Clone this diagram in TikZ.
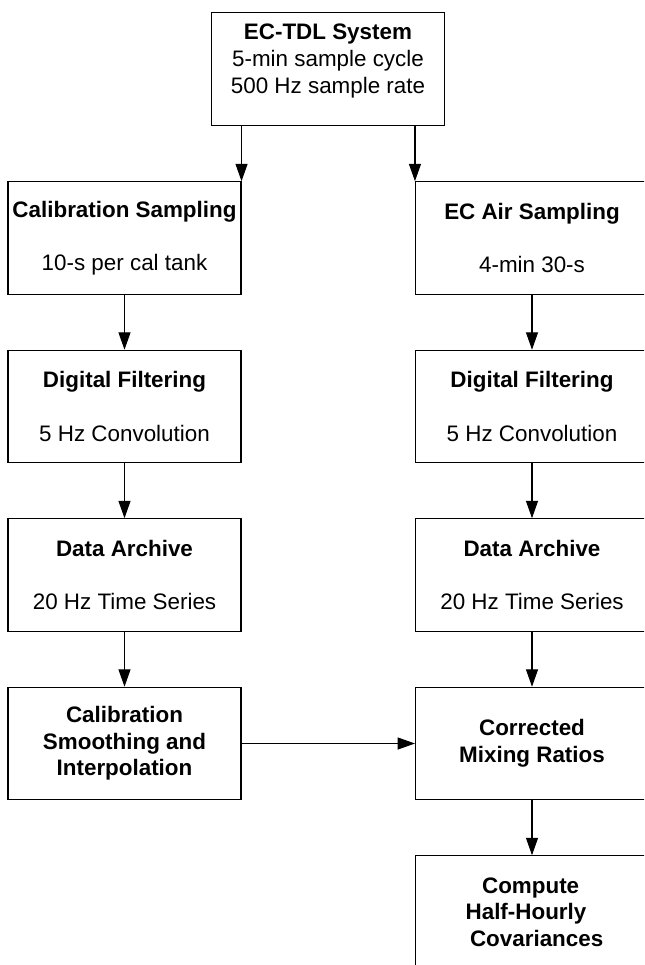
\documentclass[tikz,border=0pt]{standalone}
\usepackage{fontspec}
\setmainfont{Liberation Sans}
\usetikzlibrary{arrows.meta}
\begin{document}
\begin{tikzpicture}[x=0.75pt,y=-0.75pt,
  txt/.style={font=\fontsize{16.8}{19.9}\selectfont},
  box/.style={txt, draw=black, line width=0.8pt, minimum width=174.75pt, minimum height=84.4pt, inner sep=0pt, align=center},
  boldbox/.style={box, font=\fontsize{16.8}{19.9}\selectfont\bfseries},
  arr/.style={draw=black, line width=0.8pt, -{Triangle[length=13pt,width=9pt]}}]
\clip (0,0) rectangle (644,965);
% top
\node[box] (top) at (328,69) {};
\node[txt, align=center, inner sep=0pt] (toptext) at (328,61) {\textbf{EC-TDL System}\\5-min sample cycle\\500 Hz sample rate};
% left column
\node[box] (L1) at (124.5,238) {\textbf{Calibration Sampling}\\[19.9pt]10-s per cal tank};
\node[box] (L2) at (124.5,406.5) {\textbf{Digital Filtering}\\[19.9pt]5 Hz Convolution};
\node[box] (L3) at (124.5,575) {\textbf{Data Archive}\\[19.9pt]20 Hz Time Series};
\node[boldbox] (L4) at (124.5,743.5) {Calibration\\Smoothing and\\Interpolation};
% right column
\node[box] (R1) at (532,238) {\textbf{EC Air Sampling}\\[19.9pt]4-min 30-s};
\node[box] (R2) at (532,406.5) {\textbf{Digital Filtering}\\[19.9pt]5 Hz Convolution};
\node[box] (R3) at (532,575) {\textbf{Data Archive}\\[19.9pt]20 Hz Time Series};
\node[boldbox] (R4) at (532,743.5) {Corrected\\Mixing Ratios};
\node[boldbox] (R5) at (532,912) {\mbox{Compute\kern2pt}\\\mbox{Half-Hourly\kern9pt}\\\mbox{\kern7pt Covariances}};
% connectors
\draw[arr] (L1.north east |- top.south) -- (L1.north east);
\draw[arr] (R1.north west |- top.south) -- (R1.north west);
\draw[arr] (L1.south) -- (L2.north);
\draw[arr] (L2.south) -- (L3.north);
\draw[arr] (L3.south) -- (L4.north);
\draw[arr] (R1.south) -- (R2.north);
\draw[arr] (R2.south) -- (R3.north);
\draw[arr] (R3.south) -- (R4.north);
\draw[arr] (R4.south) -- (R5.north);
\draw[arr] (L4.east) -- (R4.west);
\end{tikzpicture}
\end{document}
